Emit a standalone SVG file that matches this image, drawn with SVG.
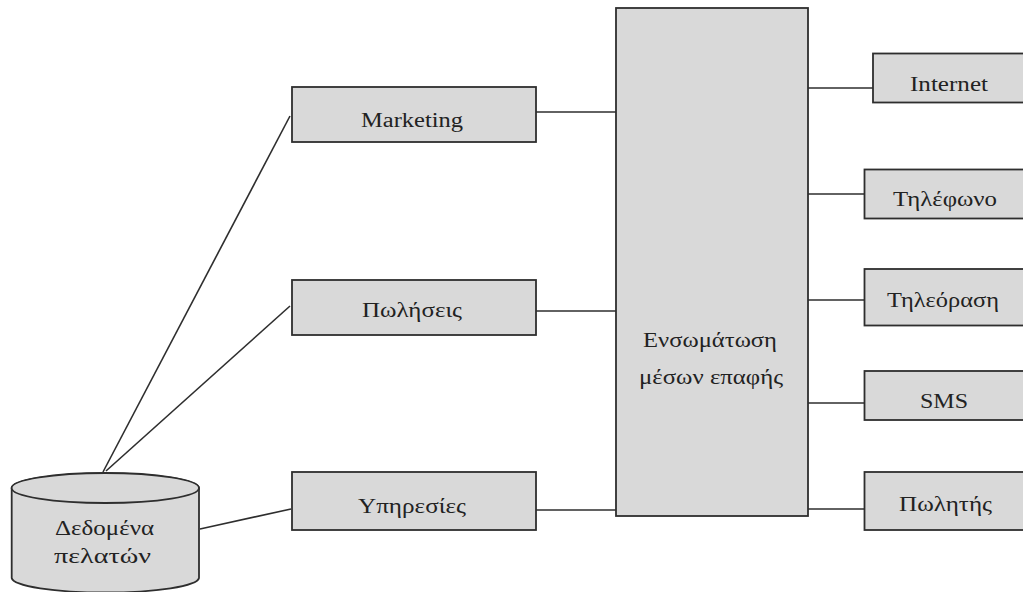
<svg xmlns="http://www.w3.org/2000/svg" width="1023" height="592" viewBox="0 0 1023 592">
<style>
.box{fill:#d9d9d9;stroke:#2e2e2e;stroke-width:1.8}
.ln{stroke:#2e2e2e;stroke-width:1.6;fill:none}
.t{font-family:'Liberation Serif','Times New Roman','DejaVu Serif',serif;font-size:20px;fill:#222}
</style>
<rect width="1023" height="592" fill="#ffffff"/>
<g id="connectors">
<line class="ln" x1="103" y1="472" x2="290" y2="116"/>
<line class="ln" x1="106" y1="471" x2="290" y2="306"/>
<line class="ln" x1="200" y1="529" x2="291" y2="509"/>
<line class="ln" x1="536" y1="112" x2="616" y2="112"/>
<line class="ln" x1="536" y1="311" x2="616" y2="311"/>
<line class="ln" x1="536" y1="510" x2="616" y2="510"/>
<line class="ln" x1="808" y1="88" x2="873" y2="88"/>
<line class="ln" x1="808" y1="194" x2="864" y2="194"/>
<line class="ln" x1="808" y1="300" x2="864" y2="300"/>
<line class="ln" x1="808" y1="403" x2="864" y2="403"/>
<line class="ln" x1="808" y1="509" x2="864" y2="509"/>
</g>
<g id="data">
<path class="box" d="M11.7,488 A93.7,15 0 0 1 199,488 L199,578 A93.7,15 0 0 1 11.7,578 Z"/>
<ellipse cx="105.3" cy="488" rx="93.7" ry="15" class="box"/>
<text class="t" font-family="Liberation Serif, serif" x="55" y="535" textLength="99" lengthAdjust="spacingAndGlyphs">Δεδομένα</text>
<text class="t" font-family="Liberation Serif, serif" x="54" y="563" textLength="97" lengthAdjust="spacingAndGlyphs">πελατών</text>
</g>
<g id="marketing">
<rect class="box" x="292" y="87" width="244" height="55"/>
<text class="t" font-family="Liberation Serif, serif" x="361" y="126.5" textLength="102" lengthAdjust="spacingAndGlyphs">Marketing</text>
</g>
<g id="sales">
<rect class="box" x="292" y="280" width="244" height="55"/>
<text class="t" font-family="Liberation Serif, serif" x="362" y="316.5" textLength="100" lengthAdjust="spacingAndGlyphs">Πωλήσεις</text>
</g>
<g id="services">
<rect class="box" x="292" y="472" width="244" height="58"/>
<text class="t" font-family="Liberation Serif, serif" x="358" y="513" textLength="108" lengthAdjust="spacingAndGlyphs">Υπηρεσίες</text>
</g>
<g id="integration">
<rect class="box" x="616" y="8" width="192" height="508"/>
<text class="t" font-family="Liberation Serif, serif" x="643" y="346.5" textLength="134" lengthAdjust="spacingAndGlyphs">Ενσωμάτωση</text>
<text class="t" font-family="Liberation Serif, serif" x="639" y="384" textLength="144" lengthAdjust="spacingAndGlyphs">μέσων επαφής</text>
</g>
<g id="internet">
<rect class="box" x="873" y="53.5" width="160" height="49"/>
<text class="t" font-family="Liberation Serif, serif" x="910" y="90.5" textLength="78" lengthAdjust="spacingAndGlyphs">Internet</text>
</g>
<g id="phone">
<rect class="box" x="864.5" y="169.5" width="170" height="49"/>
<text class="t" font-family="Liberation Serif, serif" x="893" y="205.5" textLength="104" lengthAdjust="spacingAndGlyphs">Τηλέφωνο</text>
</g>
<g id="tv">
<rect class="box" x="864.5" y="269" width="170" height="56.5"/>
<text class="t" font-family="Liberation Serif, serif" x="887" y="307" textLength="112" lengthAdjust="spacingAndGlyphs">Τηλεόραση</text>
</g>
<g id="sms">
<rect class="box" x="864.5" y="371" width="170" height="49"/>
<text class="t" font-family="Liberation Serif, serif" x="920" y="407.5" textLength="48" lengthAdjust="spacingAndGlyphs">SMS</text>
</g>
<g id="seller">
<rect class="box" x="864.5" y="472" width="170" height="58"/>
<text class="t" font-family="Liberation Serif, serif" x="899" y="511" textLength="93" lengthAdjust="spacingAndGlyphs">Πωλητής</text>
</g>
</svg>
